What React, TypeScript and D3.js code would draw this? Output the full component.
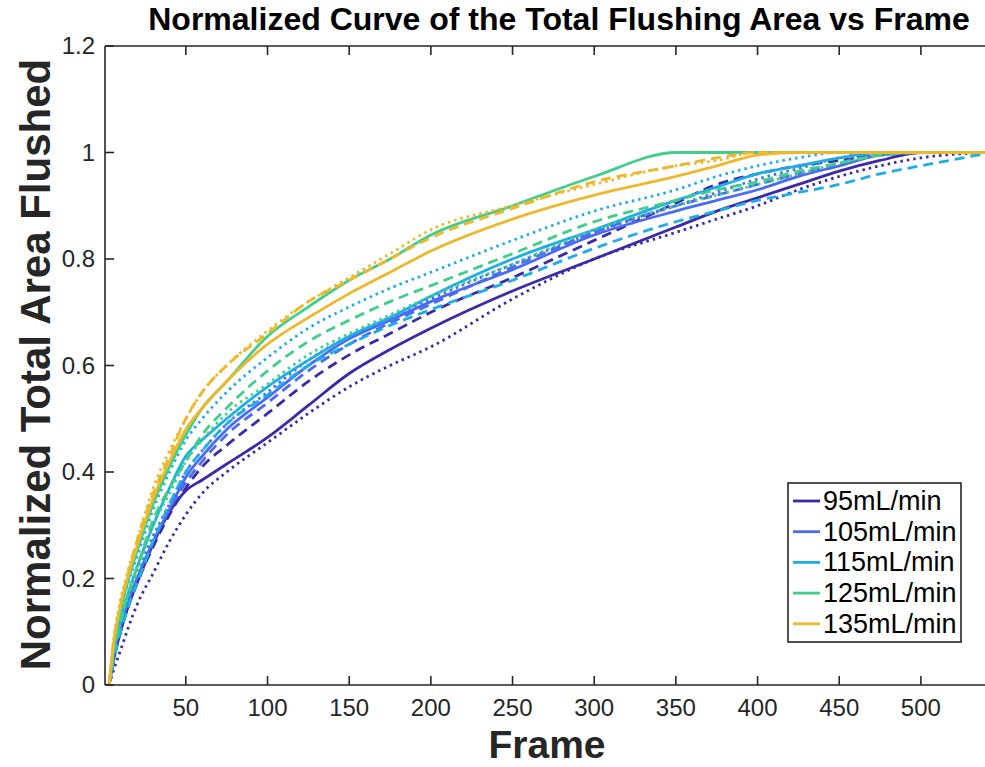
import React from 'react';
import * as d3 from 'd3';

const frames = [3, 6, 10, 15, 20, 30, 40, 50, 60, 75, 100, 125, 150, 175, 200, 250, 300, 350, 375, 400, 425, 450, 475, 500, 540];

const v95Solid = [0, .05, .10, .15, .19, .265, .325, .365, .385, .415, .465, .525, .585, .63, .67, .74, .80, .86, .89, .915, .94, .965, .985, 1, 1];
const v95Dash = [0, .05, .10, .15, .19, .26, .32, .37, .41, .45, .51, .57, .62, .66, .70, .765, .835, .905, .94, .96, .975, .985, .995, 1, 1];
const v95Dot = [0, .03, .065, .11, .15, .21, .27, .32, .36, .40, .455, .51, .56, .60, .635, .725, .80, .85, .875, .90, .93, .955, .975, .99, 1];
const v105Solid = [0, .06, .11, .16, .20, .27, .33, .39, .43, .48, .54, .60, .65, .685, .72, .78, .845, .89, .91, .93, .955, .975, .995, 1, 1];
const v105Dash = [0, .05, .10, .15, .19, .27, .33, .38, .42, .47, .53, .59, .64, .68, .715, .785, .85, .90, .92, .94, .96, .98, 1, 1, 1];
const v105Dot = [0, .06, .11, .165, .21, .28, .34, .40, .44, .49, .55, .61, .655, .69, .725, .79, .85, .90, .925, .95, .97, .99, 1, 1, 1];
const v115Solid = [0, .065, .12, .175, .22, .30, .37, .43, .46, .50, .56, .61, .655, .69, .73, .80, .855, .91, .935, .96, .975, .99, 1, 1, 1];
const v115Dash = [0, .05, .10, .15, .19, .27, .34, .40, .44, .49, .545, .60, .64, .675, .705, .76, .82, .87, .89, .91, .925, .94, .96, .975, .998];
const v115Dot = [0, .075, .14, .195, .24, .33, .40, .46, .50, .55, .615, .67, .71, .745, .775, .835, .89, .93, .955, .975, .99, 1, 1, 1, 1];
const v125Solid = [0, .075, .14, .20, .25, .34, .41, .47, .52, .57, .655, .71, .76, .80, .845, .90, .955, 1, 1, 1, 1, 1, 1, 1, 1];
const v125Dash = [0, .065, .12, .175, .22, .31, .37, .42, .47, .52, .59, .645, .685, .72, .75, .81, .87, .91, .93, .945, .965, .98, .995, 1, 1];
const v125Dot = [0, .065, .12, .17, .21, .30, .36, .42, .46, .51, .565, .62, .66, .695, .73, .79, .855, .90, .92, .94, .96, .98, .995, 1, 1];
const v135Solid = [0, .085, .15, .21, .26, .35, .42, .48, .52, .57, .64, .69, .735, .775, .815, .875, .92, .955, .975, .995, 1, 1, 1, 1, 1];
const v135Dash = [0, .085, .15, .215, .27, .36, .43, .50, .55, .60, .66, .72, .76, .80, .84, .895, .945, .975, .99, 1, 1, 1, 1, 1, 1];
const v135Dot = [0, .09, .16, .22, .27, .37, .44, .50, .55, .60, .665, .72, .765, .81, .855, .90, .94, .975, .985, 1, 1, 1, 1, 1, 1];

const flowRates = ['95mL/min', '105mL/min', '115mL/min', '125mL/min', '135mL/min'];
const colors = ['#3d2aa6', '#4a6cf2', '#1eaee6', '#3fcf8a', '#eeb82c'];
const xTicks = [50, 100, 150, 200, 250, 300, 350, 400, 450, 500];
const yTicks = [0, 0.2, 0.4, 0.6, 0.8, 1, 1.2];

const series = [
  { rate: 0, style: 'solid', values: v95Solid },
  { rate: 0, style: 'dash', values: v95Dash },
  { rate: 0, style: 'dot', values: v95Dot },
  { rate: 1, style: 'solid', values: v105Solid },
  { rate: 1, style: 'dash', values: v105Dash },
  { rate: 1, style: 'dot', values: v105Dot },
  { rate: 2, style: 'solid', values: v115Solid },
  { rate: 2, style: 'dash', values: v115Dash },
  { rate: 2, style: 'dot', values: v115Dot },
  { rate: 3, style: 'solid', values: v125Solid },
  { rate: 3, style: 'dash', values: v125Dash },
  { rate: 3, style: 'dot', values: v125Dot },
  { rate: 4, style: 'solid', values: v135Solid },
  { rate: 4, style: 'dash', values: v135Dash },
  { rate: 4, style: 'dot', values: v135Dot },
];

const dashes: Record<string, string | undefined> = {
  solid: undefined,
  dash: '10,6',
  dot: '2.5,4',
};

const W = 985;
const H = 767;
const left = 105;
const top = 46;
const right = 1014;
const bottom = 685;
const axisColor = '#262626';
const font = 'Liberation Sans, Arial, Helvetica, sans-serif';

export default function App() {
  const x = d3.scaleLinear().domain([0.5, 557]).range([left, right]);
  const y = d3.scaleLinear().domain([0, 1.2]).range([bottom, top]);

  const line = d3.line<number>()
    .x((_, i) => x(frames[i]))
    .y(d => y(d))
    .curve(d3.curveMonotoneX);

  return (
    <svg width={W} height={H} style={{ position: 'absolute', left: 0, top: 0, background: '#fff' }}
      fontFamily={font}>
      <defs>
        <clipPath id="plot">
          <rect x={left} y={top - 3} width={right - left} height={bottom - top + 3} />
        </clipPath>
      </defs>

      {/* curves */}
      <g clipPath="url(#plot)" fill="none">
        {series.map((s, i) => (
          <path key={i} d={line(s.values) || ''}
            stroke={colors[s.rate]} strokeWidth={2.8}
            strokeDasharray={dashes[s.style]} strokeLinejoin="round" />
        ))}
      </g>

      {/* axes box */}
      <g stroke={axisColor} strokeWidth={1.6} fill="none">
        <line x1={left} x2={right} y1={bottom} y2={bottom} />
        <line x1={left} x2={right} y1={top} y2={top} />
        <line x1={left} x2={left} y1={top} y2={bottom} />
        {xTicks.map(t => (
          <g key={t}>
            <line x1={x(t)} x2={x(t)} y1={bottom} y2={bottom - 9} />
            <line x1={x(t)} x2={x(t)} y1={top} y2={top + 9} />
          </g>
        ))}
        {yTicks.map(t => (
          <line key={t} x1={left} x2={left + 9} y1={y(t)} y2={y(t)} />
        ))}
      </g>

      {/* tick labels */}
      <g fill={axisColor} fontSize={24}>
        {xTicks.map(t => (
          <text key={t} x={x(t)} y={bottom + 31} textAnchor="middle">{t}</text>
        ))}
        {yTicks.map(t => (
          <text key={t} x={left - 10} y={y(t) + 8} textAnchor="end">{d3.format('~g')(t)}</text>
        ))}
      </g>

      {/* titles */}
      <text x={559} y={30} textAnchor="middle" fontSize={32} fontWeight="bold" fill="#000">
        Normalized Curve of the Total Flushing Area vs Frame
      </text>
      <text x={547} y={758} textAnchor="middle" fontSize={39} fontWeight="bold" fill={axisColor}>Frame</text>
      <text transform={`translate(50, ${(top + bottom) / 2 - 1}) rotate(-90)`} textAnchor="middle"
        fontSize={42} fontWeight="bold" fill={axisColor}>Normalized Total Area Flushed</text>

      {/* legend */}
      <g transform="translate(788, 483)">
        <rect width={173} height={159} fill="#fff" stroke={axisColor} strokeWidth={1.6} />
        {flowRates.map((r, i) => (
          <g key={r} transform={`translate(0, ${18 + i * 30.7})`}>
            <line x1={5} x2={32} y1={0} y2={0} stroke={colors[i]} strokeWidth={2.8} />
            <text x={35} y={9} fontSize={27} fill="#000">{r}</text>
          </g>
        ))}
      </g>
    </svg>
  );
}
